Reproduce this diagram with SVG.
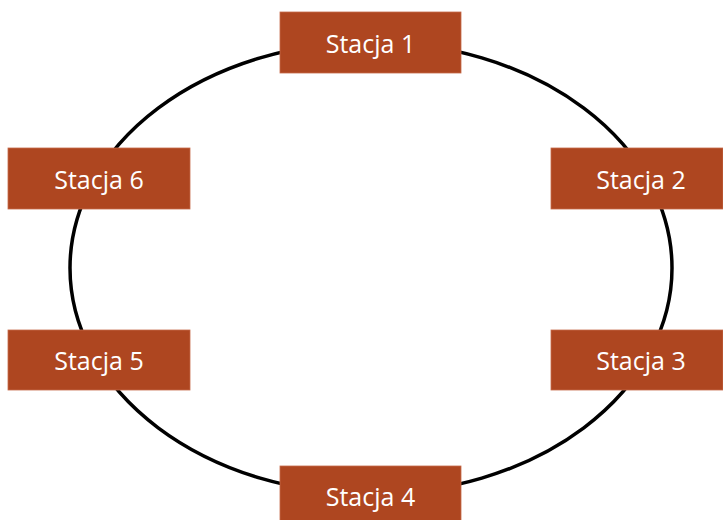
<svg xmlns="http://www.w3.org/2000/svg" width="723" height="520" viewBox="0 0 723 520">
<style>
.box{fill:#AE4620;stroke:#C56A4A;stroke-width:0.8}
.lbl{font-family:"Open Sans","Liberation Sans",sans-serif;font-size:25px;fill:#fff;text-anchor:middle;dominant-baseline:central}
</style>
<rect width="723" height="520" fill="#fff"/>
<g id="connectors">
<ellipse cx="371" cy="268" rx="301" ry="226" fill="none" stroke="#000" stroke-width="3.5"/>
</g>
<g id="s1"><rect class="box" x="280" y="12" width="181" height="61"/><text class="lbl" x="370.5" y="42.5">Stacja 1</text></g>
<g id="s2"><rect class="box" x="551" y="148" width="172" height="61"/><text class="lbl" x="641" y="179">Stacja 2</text></g>
<g id="s3"><rect class="box" x="551" y="330" width="172" height="60"/><text class="lbl" x="641" y="360">Stacja 3</text></g>
<g id="s4"><rect class="box" x="280" y="466" width="181" height="60"/><text class="lbl" x="370.5" y="496">Stacja 4</text></g>
<g id="s5"><rect class="box" x="8" y="330" width="182" height="60"/><text class="lbl" x="99" y="360">Stacja 5</text></g>
<g id="s6"><rect class="box" x="8" y="148" width="182" height="61"/><text class="lbl" x="99" y="179">Stacja 6</text></g>
</svg>
